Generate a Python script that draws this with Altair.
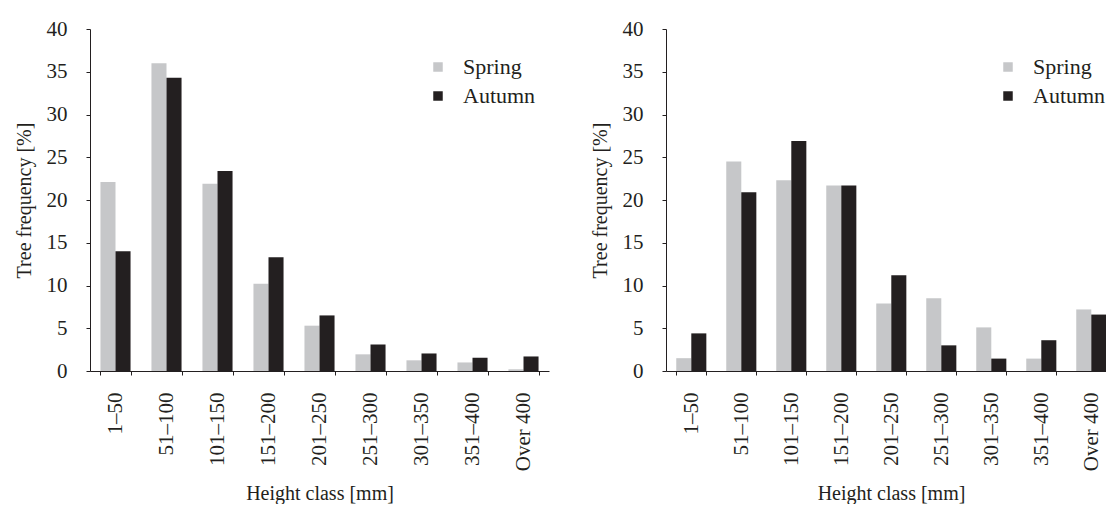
import altair as alt
import pandas as pd

categories = ["1–50", "51–100", "101–150", "151–200", "201–250",
              "251–300", "301–350", "351–400", "Over 400"]
seasons = ["Spring", "Autumn"]

left_spring = [22.1, 36.0, 21.9, 10.2, 5.3, 1.95, 1.25, 1.0, 0.2]
left_autumn = [14.0, 34.3, 23.4, 13.3, 6.5, 3.1, 2.05, 1.55, 1.7]
right_spring = [1.5, 24.5, 22.3, 21.7, 7.9, 8.5, 5.1, 1.45, 7.2]
right_autumn = [4.4, 20.9, 26.9, 21.7, 11.2, 3.0, 1.45, 3.6, 6.6]

y_ticks = [0, 5, 10, 15, 20, 25, 30, 35, 40]
colors = ["#c6c7c9", "#231f20"]
FONT = "Liberation Serif"
INK = "#231f20"


def make_df(spring, autumn):
    rows = []
    for c, s, a in zip(categories, spring, autumn):
        rows.append({"cls": c, "season": "Spring", "val": s})
        rows.append({"cls": c, "season": "Autumn", "val": a})
    return pd.DataFrame(rows)


def panel(spring, autumn, width, legend_x):
    return alt.Chart(make_df(spring, autumn)).mark_bar().encode(
        x=alt.X("cls:N", sort=categories,
                scale=alt.Scale(paddingInner=0.41, paddingOuter=0.205),
                axis=alt.Axis(title="Height class [mm]", labelAngle=-90,
                              tickBand="extent", labelPadding=17,
                              titlePadding=13, labelFontSize=21)),
        xOffset=alt.XOffset("season:N", sort=seasons),
        y=alt.Y("val:Q", scale=alt.Scale(domain=[0, 40], nice=False),
                axis=alt.Axis(values=y_ticks, title="Tree frequency [%]",
                              labelPadding=19, titlePadding=12,
                              labelFontSize=21)),
        color=alt.Color("season:N", sort=seasons,
                        scale=alt.Scale(domain=seasons, range=colors),
                        legend=alt.Legend(orient="none", legendX=legend_x,
                                          legendY=27, title=None,
                                          symbolType="square", symbolSize=90,
                                          symbolStrokeWidth=0,
                                          labelFontSize=22, labelOffset=14,
                                          rowPadding=7, padding=0,
                                          labelFont=FONT, labelColor=INK)),
    ).properties(width=width, height=342)


chart = alt.hconcat(
    panel(left_spring, left_autumn, 459, 337),
    panel(right_spring, right_autumn, 450, 331),
    spacing=41,
).resolve_scale(color="independent").resolve_legend(
    color="independent"
).configure_view(stroke=None).configure_axis(
    grid=False,
    domainColor=INK,
    tickColor=INK,
    tickSize=4,
    labelFont=FONT,
    titleFont=FONT,
    labelColor=INK,
    titleColor=INK,
    titleFontSize=20,
    titleFontWeight="normal",
).properties(padding={"left": 6, "top": 10, "right": -10, "bottom": 0})

chart.save("out.html", embed_options={"renderer": "svg", "actions": False})
